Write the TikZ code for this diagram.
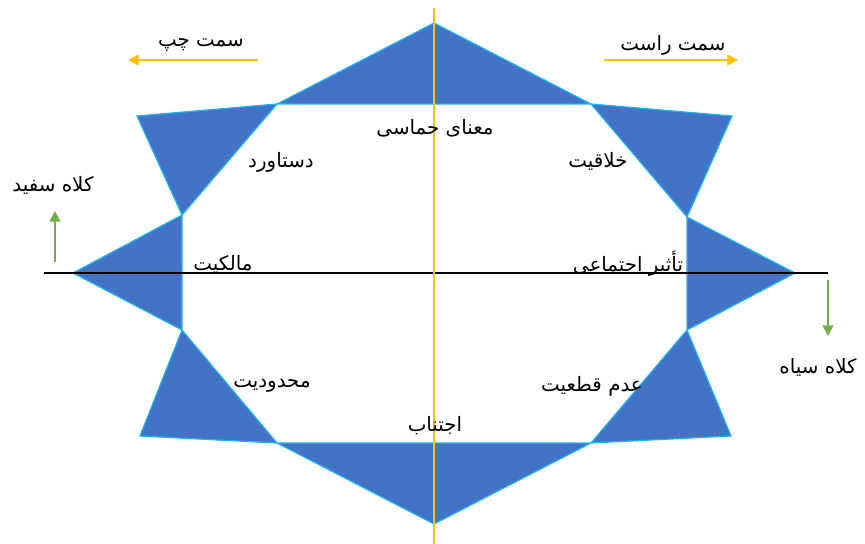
\documentclass[tikz,border=0pt]{standalone}
\usepackage{fontspec}
\usepackage{tikz}
\usetikzlibrary{arrows.meta,positioning,calc}
\newfontfamily\arabicfont[Script=Arabic]{DejaVu Sans}
\TeXXeTstate=1
\definecolor{hatblue}{HTML}{4472C4}
\definecolor{hatedge}{HTML}{1FB4F0}
\definecolor{hatgold}{HTML}{FFC000}
\definecolor{hatgreen}{HTML}{70AD47}
\newcommand{\fa}[1]{\arabicfont\beginR #1\endR}

\begin{document}
\begin{tikzpicture}[
  x=0.02cm, y=-0.02cm,
  spike/.style={fill=hatblue, draw=hatedge, line width=0.7pt, line join=miter},
  label/.style={font=\fontsize{11.3}{13}\selectfont, inner sep=1pt},
  sidearrow/.style={draw=hatgold, line width=1pt, -{Triangle[length=6pt,width=6pt]}},
  hatarrow/.style={draw=hatgreen, line width=1pt, -{Triangle[length=6pt,width=6pt]}}
]
\useasboundingbox (0,0) rectangle (865,544);
% octagon corners
\coordinate (a) at (277,104);
\coordinate (b) at (591,104);
\coordinate (c) at (687,217);
\coordinate (d) at (687,330);
\coordinate (e) at (591,443);
\coordinate (f) at (277,443);
\coordinate (g) at (182,330);
\coordinate (h) at (182,215);
% spike tips
\coordinate (tipN) at (434,23);
\coordinate (tipNE) at (732,116);
\coordinate (tipE) at (795,273);
\coordinate (tipSE) at (731,436);
\coordinate (tipS) at (434,524);
\coordinate (tipSW) at (140,436);
\coordinate (tipW) at (73,273);
\coordinate (tipNW) at (137,116);

\draw[spike] (a) -- (tipN) -- (b) -- cycle;
\draw[spike] (b) -- (tipNE) -- (c) -- cycle;
\draw[spike] (c) -- (tipE) -- (d) -- cycle;
\draw[spike] (d) -- (tipSE) -- (e) -- cycle;
\draw[spike] (e) -- (tipS) -- (f) -- cycle;
\draw[spike] (f) -- (tipSW) -- (g) -- cycle;
\draw[spike] (g) -- (tipW) -- (h) -- cycle;
\draw[spike] (h) -- (tipNW) -- (a) -- cycle;

% axes
\coordinate (axW) at (44,273);
\coordinate (axE) at (828,273);
\coordinate (axN) at (434,8);
\coordinate (axS) at (434,544);
\draw[line width=1.1pt] (axW) -- (axE);
\draw[hatgold, line width=1.2pt] (axN) -- (axS);

% labels on the octagon
\node[label] (heroic) at (435,128) {\fa{معنای حماسی}};
\node[label] (achieve) at (281,162) {\fa{دستاورد}};
\node[label] (create) at (598,161) {\fa{خلاقیت}};
\node[label] (own) at (223,264) {\fa{مالکیت}};
\node[label] (social) at (628,264) {\fa{تأثیر اجتماعی}};
\node[label] (limit) at (272,386) {\fa{محدودیت}};
\node[label] (unsure) at (592,386) {\fa{عدم قطعیت}};
\node[label] (avoid) at (435,426) {\fa{اجتناب}};

% directions
\node[label] (left) at (201,45) {\fa{سمت چپ}};
\node[label] (right) at (673,45) {\fa{سمت راست}};
\coordinate (leftA) at (258,60);
\coordinate (leftB) at (128,60);
\coordinate (rightA) at (604,60);
\coordinate (rightB) at (738,60);
\draw[sidearrow] (leftA) -- (leftB);
\draw[sidearrow] (rightA) -- (rightB);

% hats
\node[label] (white) at (53,185) {\fa{کلاه سفید}};
\node[label] (black) at (818,367) {\fa{کلاه سیاه}};
\coordinate (whiteA) at (55,262);
\coordinate (whiteB) at (55,211);
\coordinate (blackA) at (828,280);
\coordinate (blackB) at (828,336);
\draw[hatarrow] (whiteA) -- (whiteB);
\draw[hatarrow] (blackA) -- (blackB);
\end{tikzpicture}
\end{document}
